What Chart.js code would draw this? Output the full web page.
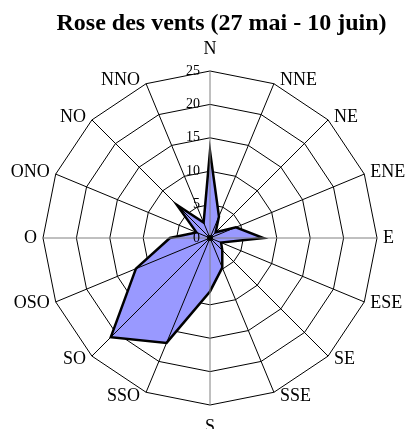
<!DOCTYPE html>
<html>
<head>
<meta charset="utf-8">
<script src="https://cdn.jsdelivr.net/npm/chart.js@4.4.0/dist/chart.umd.min.js"></script>
<style>
  html, body { margin: 0; padding: 0; background: #fff; }
  #wrap { width: 408px; height: 429px; }
</style>
</head>
<body>
<div id="wrap"><canvas id="rose"></canvas></div>
<script>
// directions, clockwise from north
var directions = ['N','NNE','NE','ENE','E','ESE','SE','SSE','S','SSO','SO','OSO','O','ONO','NO','NNO']
// counts
var counts = [13, 3.5, 1.2, 4.2, 8, 1.8, 2.6, 4.8, 8, 17, 21, 12, 6, 2.2, 7, 2.5]
var tickValues = [0, 5, 10, 15, 20, 25]
var chartTitle = 'Rose des vents (27 mai - 10 juin)'

const serif = "'Liberation Serif', 'Times New Roman', serif"

// title, direction labels, angle lines over the fill, tick labels
const overlay = {
  id: 'overlay',
  afterDatasetsDraw(chart){
    let ctx = chart.ctx
    let r = chart.scales.r
    let n = directions.length
    ctx.save()
    for (let i = 0; i < n; i++){
      let p = r.getPointPositionForValue(i, 25)
      ctx.beginPath()
      ctx.moveTo(r.xCenter, r.yCenter)
      ctx.lineTo(p.x, p.y)
      ctx.lineWidth = 1
      ctx.strokeStyle = (i % 4 == 0) ? '#808080' : '#000'
      ctx.stroke()
    }
    ctx.beginPath()
    ctx.arc(r.xCenter, r.yCenter, 3, 0, Math.PI*2)
    ctx.fillStyle = '#000'
    ctx.fill()

    // ticks, right-aligned just left of the N axis
    ctx.font = '14px ' + serif
    ctx.textAlign = 'right'
    ctx.textBaseline = 'middle'
    tickValues.forEach(function(v){
      let d = r.getDistanceFromCenterForValue(v)
      ctx.fillText(String(v), r.xCenter - 10, r.yCenter - d)
    })

    // direction labels
    ctx.font = '18px ' + serif
    for (let i = 0; i < n; i++){
      let a = i * 2 * Math.PI / n
      let p = r.getPointPositionForValue(i, 25)
      let s = Math.sin(a), c = Math.cos(a)
      if (Math.abs(s) < 0.01){
        ctx.textAlign = 'center'
        ctx.fillText(directions[i], p.x, p.y - 22 * Math.sign(c))
      } else {
        ctx.textAlign = s > 0 ? 'left' : 'right'
        ctx.fillText(directions[i], p.x + 6 * Math.sign(s), p.y - 4 * c)
      }
    }

    ctx.font = 'bold 24px ' + serif
    ctx.textAlign = 'center'
    ctx.textBaseline = 'alphabetic'
    ctx.fillText(chartTitle, 221.5, 30)
    ctx.restore()
  }
}

let rose = new Chart(document.getElementById('rose').getContext('2d'), {
  type: 'radar',
  data: {
    labels: directions,
    datasets: [{
      label: 'Vents',
      data: counts,
      backgroundColor: '#9999FF',
      borderColor: '#000',
      borderWidth: 2.5,
      pointRadius: 0,
      fill: true,
      tension: 0
    }]
  },
  options: {
    responsive: true,
    maintainAspectRatio: false,
    animation: false,
    layout: { padding: { top: 71, bottom: 24, left: 43, right: 31 } },
    plugins: {
      legend: { display: false },
      tooltip: { enabled: false },
      title: { display: false }
    },
    scales: {
      r: {
        min: 0,
        max: 25,
        ticks: { stepSize: 5, display: false },
        grid: { color: '#000', lineWidth: 1 },
        angleLines: { display: false },
        pointLabels: { display: false }
      }
    }
  },
  plugins: [overlay]
});
</script>
</body>
</html>
